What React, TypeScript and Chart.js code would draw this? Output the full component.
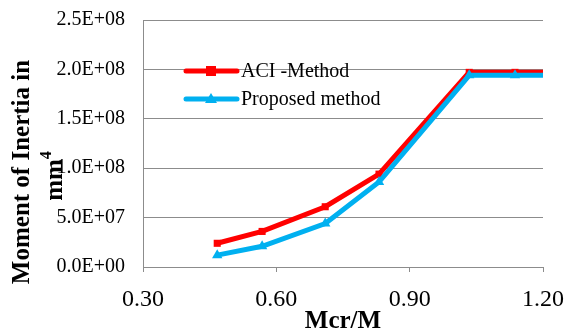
import React, { useEffect, useRef } from "react";
import { Chart, registerables } from "chart.js";

Chart.register(...registerables);

const xValues = [0.467, 0.568, 0.71, 0.831, 1.034, 1.137, 1.2];
const aciValues = [2.4e7, 3.6e7, 6.1e7, 9.4e7, 1.97e8, 1.97e8, 1.97e8];
const proposedValues = [1.2e7, 2.1e7, 4.4e7, 8.6e7, 1.94e8, 1.94e8, 1.94e8];
const seriesNames = ["ACI -Method", "Proposed method"];
const xTitle = "Mcr/M";
const yTitleLine1 = "Moment of Inertia in";
const yTitleLine2 = "mm";
const yTitleSup = "4";

const RED = "#FF0000";
const BLUE = "#00B0F0";
const GRID = "#8c8c8c";
const SERIF = "'Liberation Serif', 'Times New Roman', serif";

const fmtY = (v: number) => {
  const [m, e] = v.toExponential(1).split("e");
  const sign = e[0] === "-" ? "-" : "+";
  const digits = e.replace(/[+-]/, "").padStart(2, "0");
  return `${m}E${sign}${digits}`;
};

const overlayPlugin = {
  id: "overlay",
  afterDraw(chart: any) {
    const ctx = chart.ctx;
    ctx.save();
    const items = [
      { label: seriesNames[0], color: RED, y: 71, shape: "rect" },
      { label: seriesNames[1], color: BLUE, y: 99, shape: "tri" },
    ];
    for (const it of items) {
      ctx.strokeStyle = it.color;
      ctx.fillStyle = it.color;
      ctx.lineWidth = 5;
      ctx.lineCap = "round";
      ctx.beginPath();
      ctx.moveTo(186, it.y);
      ctx.lineTo(237, it.y);
      ctx.stroke();
      const cx = 211;
      ctx.beginPath();
      if (it.shape === "rect") {
        ctx.rect(cx - 5, it.y - 5, 10, 10);
      } else {
        ctx.moveTo(cx, it.y - 6);
        ctx.lineTo(cx + 6, it.y + 4);
        ctx.lineTo(cx - 6, it.y + 4);
        ctx.closePath();
      }
      ctx.fill();
      ctx.fillStyle = "#000";
      ctx.font = `20px ${SERIF}`;
      ctx.textAlign = "left";
      ctx.textBaseline = "middle";
      ctx.fillText(it.label, 241, it.y + 1);
    }
    ctx.font = `bold 25px ${SERIF}`;
    ctx.textAlign = "center";
    ctx.textBaseline = "middle";
    ctx.fillStyle = "#000";
    ctx.fillText(xTitle, 343, 322);
    ctx.save();
    ctx.translate(23, 172);
    ctx.rotate(-Math.PI / 2);
    ctx.font = `bold 25px ${SERIF}`;
    ctx.textAlign = "center";
    ctx.textBaseline = "middle";
    ctx.fillText(yTitleLine1, 0, 0);
    ctx.restore();
    ctx.save();
    ctx.translate(56, 176);
    ctx.rotate(-Math.PI / 2);
    ctx.font = `bold 25px ${SERIF}`;
    const w1 = ctx.measureText(yTitleLine2).width;
    ctx.font = `bold 16px ${SERIF}`;
    const w2 = ctx.measureText(yTitleSup).width;
    const start = -(w1 + w2) / 2;
    ctx.textAlign = "left";
    ctx.textBaseline = "middle";
    ctx.font = `bold 25px ${SERIF}`;
    ctx.fillText(yTitleLine2, start, 0);
    ctx.font = `bold 16px ${SERIF}`;
    ctx.fillText(yTitleSup, start + w1, -9);
    ctx.restore();
    ctx.restore();
  },
};

export default function App() {
  const ref = useRef<HTMLCanvasElement>(null);
  useEffect(() => {
    document.body.style.margin = "0";
    const canvas = ref.current!;
    const chart = new Chart(canvas, {
      type: "line",
      data: {
        datasets: [
          {
            label: seriesNames[0],
            data: xValues.map((x, i) => ({ x, y: aciValues[i] })),
            borderColor: RED,
            backgroundColor: RED,
            borderWidth: 5,
            pointStyle: "rect",
            pointRadius: [5, 5, 5, 5, 5, 5, 0],
            pointBorderWidth: 0,
            order: 2,
            tension: 0,
          },
          {
            label: seriesNames[1],
            data: xValues.map((x, i) => ({ x, y: proposedValues[i] })),
            borderColor: BLUE,
            backgroundColor: BLUE,
            borderWidth: 5,
            pointStyle: "triangle",
            pointRadius: [6, 6, 6, 6, 6, 6, 0],
            pointBorderWidth: 0,
            order: 1,
            tension: 0,
          },
        ],
      },
      options: {
        animation: false,
        responsive: false,
        maintainAspectRatio: false,
        layout: { padding: { left: 0, right: 23, top: 20, bottom: 0 } },
        plugins: { legend: { display: false }, tooltip: { enabled: false } },
        scales: {
          x: {
            type: "linear",
            min: 0.3,
            max: 1.2,
            ticks: {
              stepSize: 0.3,
              color: "#000",
              font: { family: SERIF, size: 24 },
              padding: 13,
              maxRotation: 0,
              callback: (v: any) => Number(v).toFixed(2),
            },
            grid: {
              drawOnChartArea: false,
              drawTicks: true,
              tickLength: 5,
              color: GRID,
              lineWidth: 1,
            },
            border: { display: true, color: GRID, width: 1 },
            afterFit: (s: any) => {
              s.height = 68;
              s.paddingLeft = 0;
              s.paddingRight = 0;
            },
          },
          y: {
            type: "linear",
            min: 0,
            max: 2.5e8,
            ticks: {
              stepSize: 5e7,
              color: "#000",
              font: { family: SERIF, size: 20 },
              padding: 18,
              callback: (v: any) => fmtY(Number(v)),
            },
            grid: { drawTicks: false, color: GRID, lineWidth: 1 },
            border: { display: true, color: GRID, width: 1 },
            afterFit: (s: any) => {
              s.width = 143;
              s.paddingTop = 0;
              s.paddingBottom = 0;
            },
          },
        },
      },
      plugins: [overlayPlugin],
    });
    return () => chart.destroy();
  }, []);
  return (
    <canvas
      ref={ref}
      width={566}
      height={335}
      style={{ display: "block", width: 566, height: 335 }}
    />
  );
}
